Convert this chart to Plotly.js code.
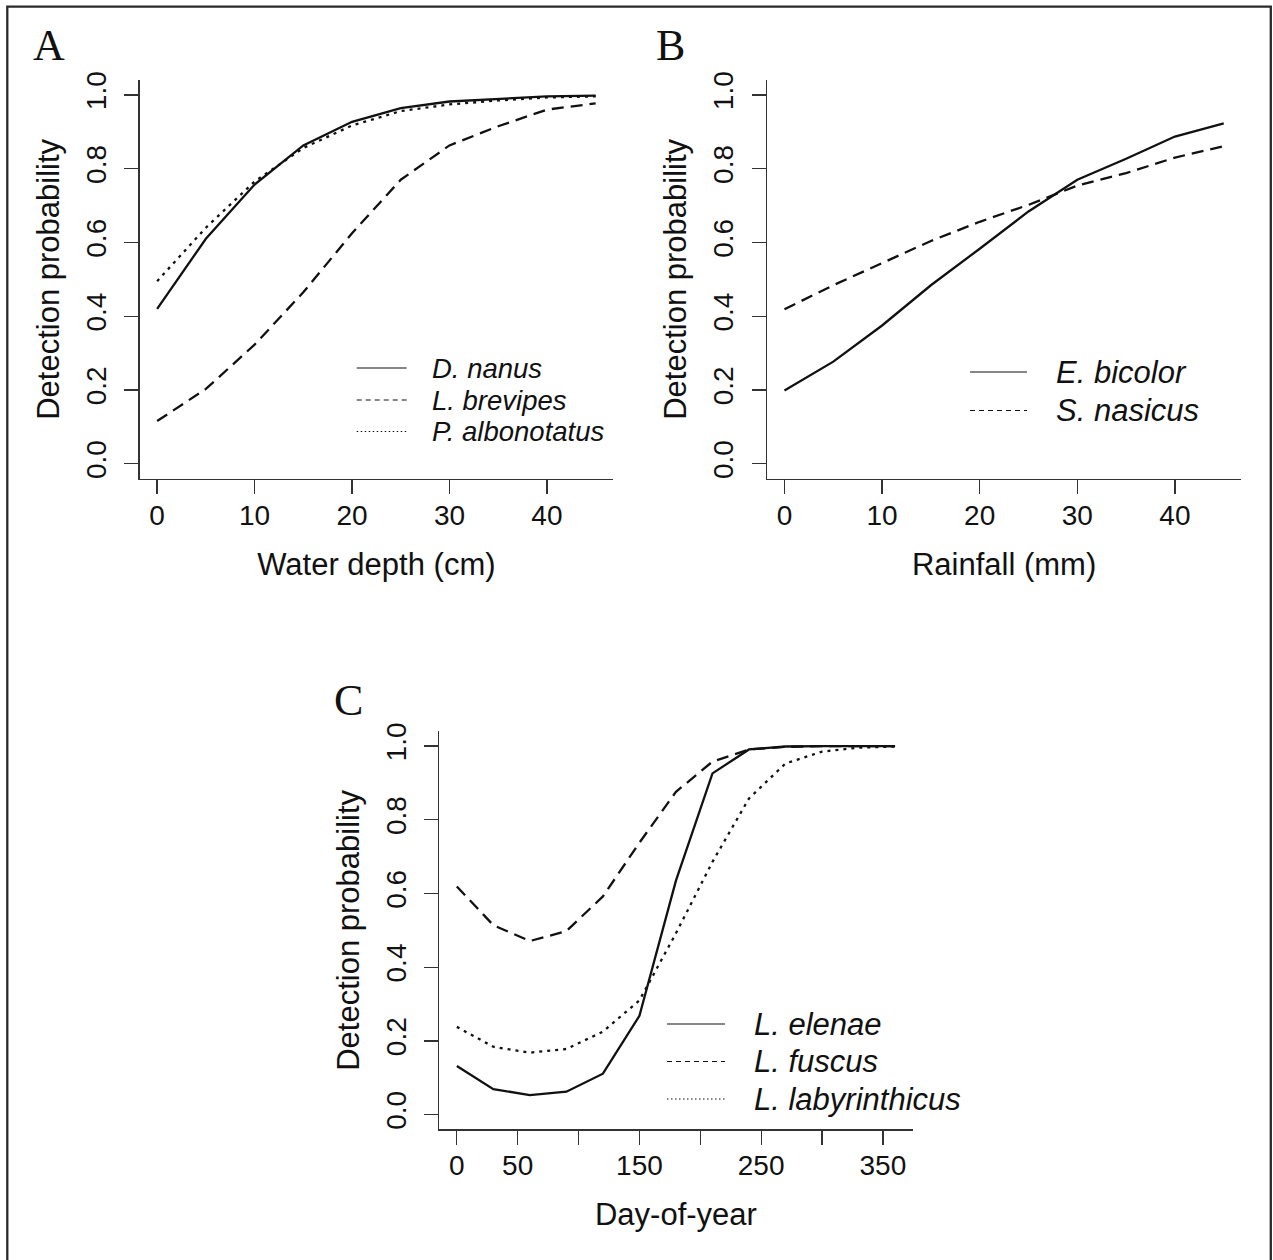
<!DOCTYPE html>
<html>
<head>
<meta charset="utf-8">
<script src="https://cdn.plot.ly/plotly-3.0.1.min.js"></script>
<style>html,body{margin:0;padding:0;background:#fff;}#chart{width:1273px;height:1260px;}</style>
</head>
<body>
<div id="chart"></div>
<script>
// ---------- data ----------
const depthCm = [0, 5, 10, 15, 20, 25, 30, 35, 40, 45];
const dNanus = [0.420, 0.610, 0.757, 0.863, 0.927, 0.964, 0.982, 0.990, 0.996, 0.998];
const lBrevipes = [0.116, 0.203, 0.323, 0.465, 0.625, 0.770, 0.863, 0.915, 0.960, 0.977];
const pAlbonotatus = [0.495, 0.640, 0.765, 0.856, 0.917, 0.956, 0.974, 0.985, 0.993, 0.996];

const rainfallMm = [0, 5, 10, 15, 20, 25, 30, 35, 40, 45];
const eBicolor = [0.199, 0.277, 0.375, 0.484, 0.583, 0.684, 0.770, 0.827, 0.887, 0.923];
const sNasicus = [0.419, 0.484, 0.544, 0.604, 0.656, 0.702, 0.754, 0.788, 0.830, 0.861];

const dayOfYear = [0, 30, 60, 90, 120, 150, 180, 210, 240, 270, 300, 330, 360];
const lElenae = [0.132, 0.069, 0.053, 0.062, 0.111, 0.268, 0.635, 0.926, 0.991, 0.999, 1.0, 1.0, 1.0];
const lFuscus = [0.619, 0.514, 0.471, 0.498, 0.592, 0.738, 0.876, 0.958, 0.991, 0.998, 1.0, 1.0, 1.0];
const lLabyrinthicus = [0.238, 0.184, 0.168, 0.178, 0.225, 0.310, 0.492, 0.686, 0.858, 0.953, 0.985, 0.996, 0.999];

const namesA = ["D. nanus", "L. brevipes", "P. albonotatus"];
const namesB = ["E. bicolor", "S. nasicus"];
const namesC = ["L. elenae", "L. fuscus", "L. labyrinthicus"];

const ticksDepth = [0, 10, 20, 30, 40];
const ticksProb = [0, 0.2, 0.4, 0.6, 0.8, 1.0];
const ticksProbText = ["0.0", "0.2", "0.4", "0.6", "0.8", "1.0"];
const ticksDay = [0, 50, 100, 150, 200, 250, 300, 350];
const ticksDayText = ["0", "50", "", "150", "", "250", "", "350"];

const titleA = "Water depth (cm)";
const titleB = "Rainfall (mm)";
const titleC = "Day-of-year";
const titleY = "Detection probability";
const panelLetters = ["A", "B", "C"];

// ---------- styling ----------
const W = 1273, H = 1260;
const px = x => x / W;
const py = y => 1 - y / H;
const SANS = "Liberation Sans, Arial, sans-serif";
const SERIF = "Liberation Serif, Times New Roman, serif";
const INK = "#111";
const AXC = "#333";
const styles = [
  {dash: "solid", ldash: "solid"},
  {dash: "12px,7px", ldash: "5px,4px"},
  {dash: "3px,5px", ldash: "1.5px,2.5px"}
];

function line(x, y, ax, name, k) {
  return {x: x, y: y, xaxis: ax[0], yaxis: ax[1], name: name, type: "scatter", mode: "lines",
    line: {color: INK, width: 2.3, dash: styles[k].dash}, showlegend: false, hoverinfo: "x+y+name"};
}

const data = [
  line(depthCm, dNanus, ["x", "y"], namesA[0], 0),
  line(depthCm, lBrevipes, ["x", "y"], namesA[1], 1),
  line(depthCm, pAlbonotatus, ["x", "y"], namesA[2], 2),
  line(rainfallMm, eBicolor, ["x2", "y2"], namesB[0], 0),
  line(rainfallMm, sNasicus, ["x2", "y2"], namesB[1], 1),
  line(dayOfYear, lElenae, ["x3", "y3"], namesC[0], 0),
  line(dayOfYear, lFuscus, ["x3", "y3"], namesC[1], 1),
  line(dayOfYear, lLabyrinthicus, ["x3", "y3"], namesC[2], 2)
];

function xAx(domain, range, tv, tt, title, anchor) {
  return {domain: domain, range: range, anchor: anchor, tickmode: "array", tickvals: tv, ticktext: tt,
    showline: true, linecolor: AXC, linewidth: 1.3, ticks: "outside", ticklen: 14, tickwidth: 1.3, tickcolor: AXC,
    showgrid: false, zeroline: false, tickfont: {family: SANS, size: 28, color: INK}, ticklabelstandoff: -3,
    title: {text: title, font: {family: SANS, size: 31, color: INK}, standoff: 23}};
}
function yAx(domain, anchor) {
  return {domain: domain, range: [-0.04, 1.04], anchor: anchor, tickmode: "array", tickvals: ticksProb, ticktext: ticksProbText,
    tickangle: -90, showline: true, linecolor: AXC, linewidth: 1.3, ticks: "outside", ticklen: 14, tickwidth: 1.3, tickcolor: AXC,
    showgrid: false, zeroline: false, tickfont: {family: SANS, size: 28, color: INK}, ticklabelstandoff: 7,
    title: {text: titleY, font: {family: SANS, size: 31, color: INK}, standoff: 12}};
}

const domA = [px(139.6), px(613.2)], domB = [px(766.9), px(1241.3)], domC = [px(439.3), px(912.6)];
const domTop = [py(478.6), py(80.1)], domBot = [py(1129.3), py(731.4)];

const shapes = [
  {type: "rect", xref: "paper", yref: "paper", x0: px(7.3), x1: px(1270.8), y0: py(1290), y1: py(6.7),
   line: {color: "#2a2a2a", width: 2.3}, fillcolor: "rgba(0,0,0,0)", layer: "above"}
];
const annotations = [];

function legend(names, x0, x1, tx, rows, fs) {
  names.forEach((n, i) => {
    shapes.push({type: "line", xref: "paper", yref: "paper", x0: px(x0), x1: px(x1), y0: py(rows[i]), y1: py(rows[i]),
      line: {color: INK, width: 1.1, dash: styles[i].ldash}});
    annotations.push({xref: "paper", yref: "paper", x: px(tx), y: py(rows[i]), xanchor: "left", yanchor: "middle",
      text: n, showarrow: false, font: {family: SANS, size: fs, color: INK, style: "italic"}});
  });
}
legend(namesA, 356.7, 406.7, 430, [368, 400, 431.5], 27.5);
legend(namesB, 970, 1027, 1054, [372, 410.5], 31);
legend(namesC, 667, 725, 752, [1024, 1061.5, 1099], 31);

[[48.7, 46], [670.3, 46], [348.4, 700]].forEach((p, i) => {
  annotations.push({xref: "paper", yref: "paper", x: px(p[0]), y: py(p[1]), xanchor: "center", yanchor: "middle",
    text: panelLetters[i], showarrow: false, font: {family: SERIF, size: 44, color: INK}});
});

const layout = {
  width: W, height: H, margin: {l: 0, r: 0, t: 0, b: 0}, paper_bgcolor: "#fff", plot_bgcolor: "#fff",
  showlegend: false, font: {family: SANS, color: INK},
  xaxis: xAx(domA, [-1.8, 46.8], ticksDepth, ticksDepth.map(String), titleA, "y"),
  yaxis: yAx(domTop, "x"),
  xaxis2: xAx(domB, [-1.8, 46.8], ticksDepth, ticksDepth.map(String), titleB, "y2"),
  yaxis2: yAx(domTop, "x2"),
  xaxis3: xAx(domC, [-14.4, 374.4], ticksDay, ticksDayText, titleC, "y3"),
  yaxis3: yAx(domBot, "x3"),
  shapes: shapes, annotations: annotations
};

Plotly.newPlot("chart", data, layout, {displayModeBar: false, staticPlot: true});
</script>
</body>
</html>
